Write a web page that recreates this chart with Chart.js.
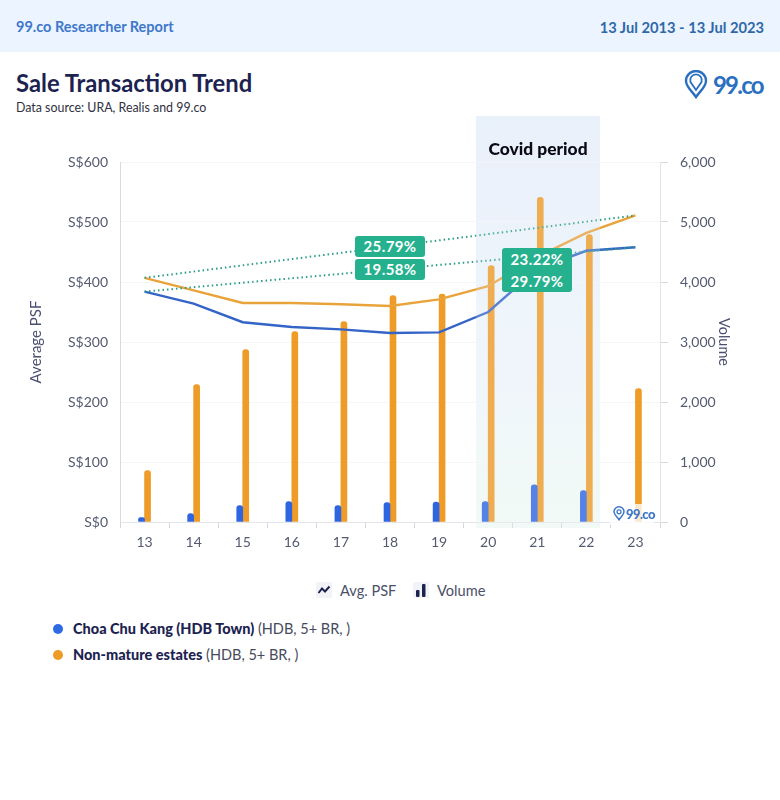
<!DOCTYPE html>
<html>
<head>
<meta charset="utf-8">
<script src="https://cdn.jsdelivr.net/npm/chart.js@4"></script>
<style>
  * { box-sizing: border-box; }
  html, body { margin: 0; background: #fff; }
  body { width: 780px; height: 800px; position: relative; overflow: hidden; font-family: Lato, sans-serif; }
  .abs { position: absolute; white-space: nowrap; }
  .topbar { left: 0; top: 0; width: 780px; height: 52px; background: #ebf4ff; }
  .report { left: 16px; top: 18px; font-size: 14.5px; font-weight: 700; color: #3f78cb; }
  .range { right: 16px; top: 18px; font-size: 14.7px; font-weight: 700; color: #2f68a8; }
  .title { left: 16px; top: 69px; font-size: 23.8px; font-weight: 700; color: #1d2350; }
  .source { left: 16px; top: 100px; font-size: 12.4px; color: #2f3040; }
  .brand { left: 713px; top: 70px; font-size: 24px; font-weight: 700; letter-spacing: -1.8px; color: #2b6fc0; }
  #wrap { left: 0; top: 130px; width: 780px; height: 430px; }
  .band { left: 476px; top: 116px; width: 124px; height: 412px; }
  .bandUnder { background: linear-gradient(to bottom, #e8f0fc 0%, #eff6fc 60%, #f2fcf5 100%); }
  .bandOver { background: rgba(240,246,252,.2); }
  .covid { left: 476px; width: 124px; top: 138px; text-align: center; font-size: 17.4px; font-weight: 900; color: #0a0a14; }
  .pill { background: #25b18e; color: #fff; font-size: 15px; font-weight: 700; letter-spacing: .4px;
    text-align: center; border-radius: 3px; width: 70px; }
  .mark { left: 610px; top: 504px; width: 44px; height: 21px; background: rgba(255,255,255,.78); }
  .markText { left: 626px; top: 506px; font-size: 13px; font-weight: 900; letter-spacing: -.6px; color: #3e76c9; }
  .key { font-size: 14.6px; color: #4c5068; top: 582px; }
  .iconBox { width: 16px; height: 16px; border-radius: 2px; background: #f1f3f8; }
  .dot { width: 10px; height: 10px; border-radius: 50%; }
  .row { left: 73px; font-size: 14.5px; color: #474a5c; }
  .row b { color: #1d2350; font-weight: 900; }
</style>
</head>
<body>
<div class="abs topbar"></div>
<div class="abs report">99.co Researcher Report</div>
<div class="abs range">13 Jul 2013 - 13 Jul 2023</div>
<div class="abs title">Sale Transaction Trend</div>
<div class="abs source">Data source: URA, Realis and 99.co</div>
<svg class="abs" style="left:684px;top:70px" width="24" height="29" viewBox="0 0 24 29">
  <path d="M12 27 C8 21 2 17 2 11 A10 10 0 0 1 22 11 C22 17 16 21 12 27 Z" fill="none" stroke="#2b6fc0" stroke-width="2.4"/>
  <path d="M12 20 L6.5 12 A5.8 5.8 0 1 1 17.5 12 Z" fill="none" stroke="#2b6fc0" stroke-width="1.8"/>
</svg>
<div class="abs brand">99.co</div>

<div class="abs band bandUnder"></div>
<div class="abs" id="wrap"><canvas id="chart" width="780" height="430"></canvas></div>
<div class="abs band bandOver"></div>

<div class="abs covid">Covid period</div>
<div class="abs pill" style="left:355px;top:236px;height:21px;line-height:21px">25.79%</div>
<div class="abs pill" style="left:355px;top:259px;height:21px;line-height:21px">19.58%</div>
<div class="abs pill" style="left:502px;top:248px;height:44px;line-height:22px">23.22%<br>29.79%</div>

<div class="abs mark"></div>
<svg class="abs" style="left:613px;top:506px" width="12" height="15" viewBox="0 0 24 29">
  <path d="M12 27 C8 21 2 17 2 11 A10 10 0 0 1 22 11 C22 17 16 21 12 27 Z" fill="none" stroke="#3e76c9" stroke-width="3"/>
  <circle cx="12" cy="11" r="4" fill="none" stroke="#3e76c9" stroke-width="2.5"/>
</svg>
<div class="abs markText">99.co</div>

<div class="abs iconBox" style="left:316px;top:582px">
  <svg width="16" height="16" viewBox="0 0 16 16"><path d="M2.5 11 L6 6.5 L9 9.5 L13.5 4.5" fill="none" stroke="#1d2350" stroke-width="2"/></svg>
</div>
<div class="abs key" style="left:340px">Avg. PSF</div>
<div class="abs iconBox" style="left:413px;top:582px">
  <svg width="16" height="16" viewBox="0 0 16 16"><rect x="3" y="8" width="3.5" height="7" rx="1" fill="#1d2350"/><rect x="9" y="2" width="3.5" height="13" rx="1" fill="#1d2350"/></svg>
</div>
<div class="abs key" style="left:437px">Volume</div>

<div class="abs dot" style="left:53px;top:624px;background:#2d6be4"></div>
<div class="abs row" style="top:620px"><b>Choa Chu Kang (HDB Town)</b> (HDB, 5+ BR, )</div>
<div class="abs dot" style="left:53px;top:650px;background:#ee9b27"></div>
<div class="abs row" style="top:646px"><b>Non-mature estates</b> (HDB, 5+ BR, )</div>

<script>
const years = ['13', '14', '15', '16', '17', '18', '19', '20', '21', '22', '23'];
const psfChoa = [384, 364, 333, 325, 321, 315, 316, 350, 422, 452, 458];
const psfNonMature = [407, 386, 365, 365, 363, 360, 371, 393, 442, 482, 511];
const volChoa = [75, 140, 275, 340, 275, 325, 330, 340, 620, 525, null];
const volNonMature = [858, 2290, 2875, 3175, 3340, 3775, 3800, 4275, 5410, 4790, 2225];
const trendChoa = [384, null, null, null, null, null, null, null, null, null, 458];
const trendNonMature = [407, null, null, null, null, null, null, null, null, null, 511];
const psfTicks = [0, 100, 200, 300, 400, 500, 600];
const volumeTicks = [0, 1000, 2000, 3000, 4000, 5000, 6000];

const tickColor = '#565a72';
const tickFont = { family: 'Lato', size: 14 };

function trendLine(data) {
  return {
    type: 'line',
    data,
    yAxisID: 'psf',
    borderColor: '#2a9d86',
    borderWidth: 2,
    borderDash: [1.5, 3],
    pointRadius: 0,
    spanGaps: true,
    order: 1,
  };
}

function psfLine(data, color) {
  return {
    type: 'line',
    data,
    yAxisID: 'psf',
    borderColor: color,
    borderWidth: 2.4,
    pointRadius: 0,
    tension: 0,
    order: 2,
  };
}

function volumeBar(data, color) {
  return {
    type: 'bar',
    data,
    yAxisID: 'volume',
    backgroundColor: color,
    barThickness: 6,
    borderRadius: { topLeft: 3, topRight: 3 },
    borderSkipped: 'bottom',
    order: 3,
  };
}

new Chart(document.getElementById('chart'), {
  data: {
    labels: years,
    datasets: [
      volumeBar(volChoa, '#2d66e0'),
      volumeBar(volNonMature, '#ee9b27'),
      psfLine(psfChoa, '#3464c8'),
      psfLine(psfNonMature, '#e9a33b'),
      trendLine(trendChoa),
      trendLine(trendNonMature),
    ],
  },
  options: {
    responsive: false,
    animation: false,
    layout: { padding: { top: 32 } },
    plugins: { legend: { display: false }, tooltip: { enabled: false } },
    scales: {
      x: {
        afterFit: (s) => { s.height = 38; },
        grid: { drawOnChartArea: false, color: '#d5d7dd', tickLength: 6 },
        border: { color: '#e4e5ea' },
        ticks: { color: tickColor, font: tickFont, padding: 6 },
      },
      psf: {
        position: 'left',
        min: 0,
        max: 600,
        afterFit: (s) => { s.width = 120; },
        afterBuildTicks: (s) => { s.ticks = psfTicks.map((value) => ({ value })); },
        grid: { color: '#f6f6f8', tickLength: 0 },
        border: { color: '#d9dade' },
        ticks: { color: tickColor, font: tickFont, padding: 12, callback: (v) => `S$${v}` },
        title: { display: true, text: 'Average PSF', color: '#4a4f70', font: { family: 'Lato', size: 15 }, padding: { top: 27, bottom: 0 } },
      },
      volume: {
        position: 'right',
        min: 0,
        max: 6000,
        afterFit: (s) => { s.width = 120; },
        afterBuildTicks: (s) => { s.ticks = volumeTicks.map((value) => ({ value })); },
        grid: { drawOnChartArea: false, color: '#d9dade', tickLength: 8 },
        border: { color: '#e4e5ea' },
        ticks: { color: tickColor, font: tickFont, padding: 12, callback: (v) => v.toLocaleString('en-US') },
        title: { display: true, text: 'Volume', color: '#4a4f70', font: { family: 'Lato', size: 14.5 }, padding: { top: 48, bottom: 0 } },
      },
    },
  },
});
</script>
</body>
</html>
